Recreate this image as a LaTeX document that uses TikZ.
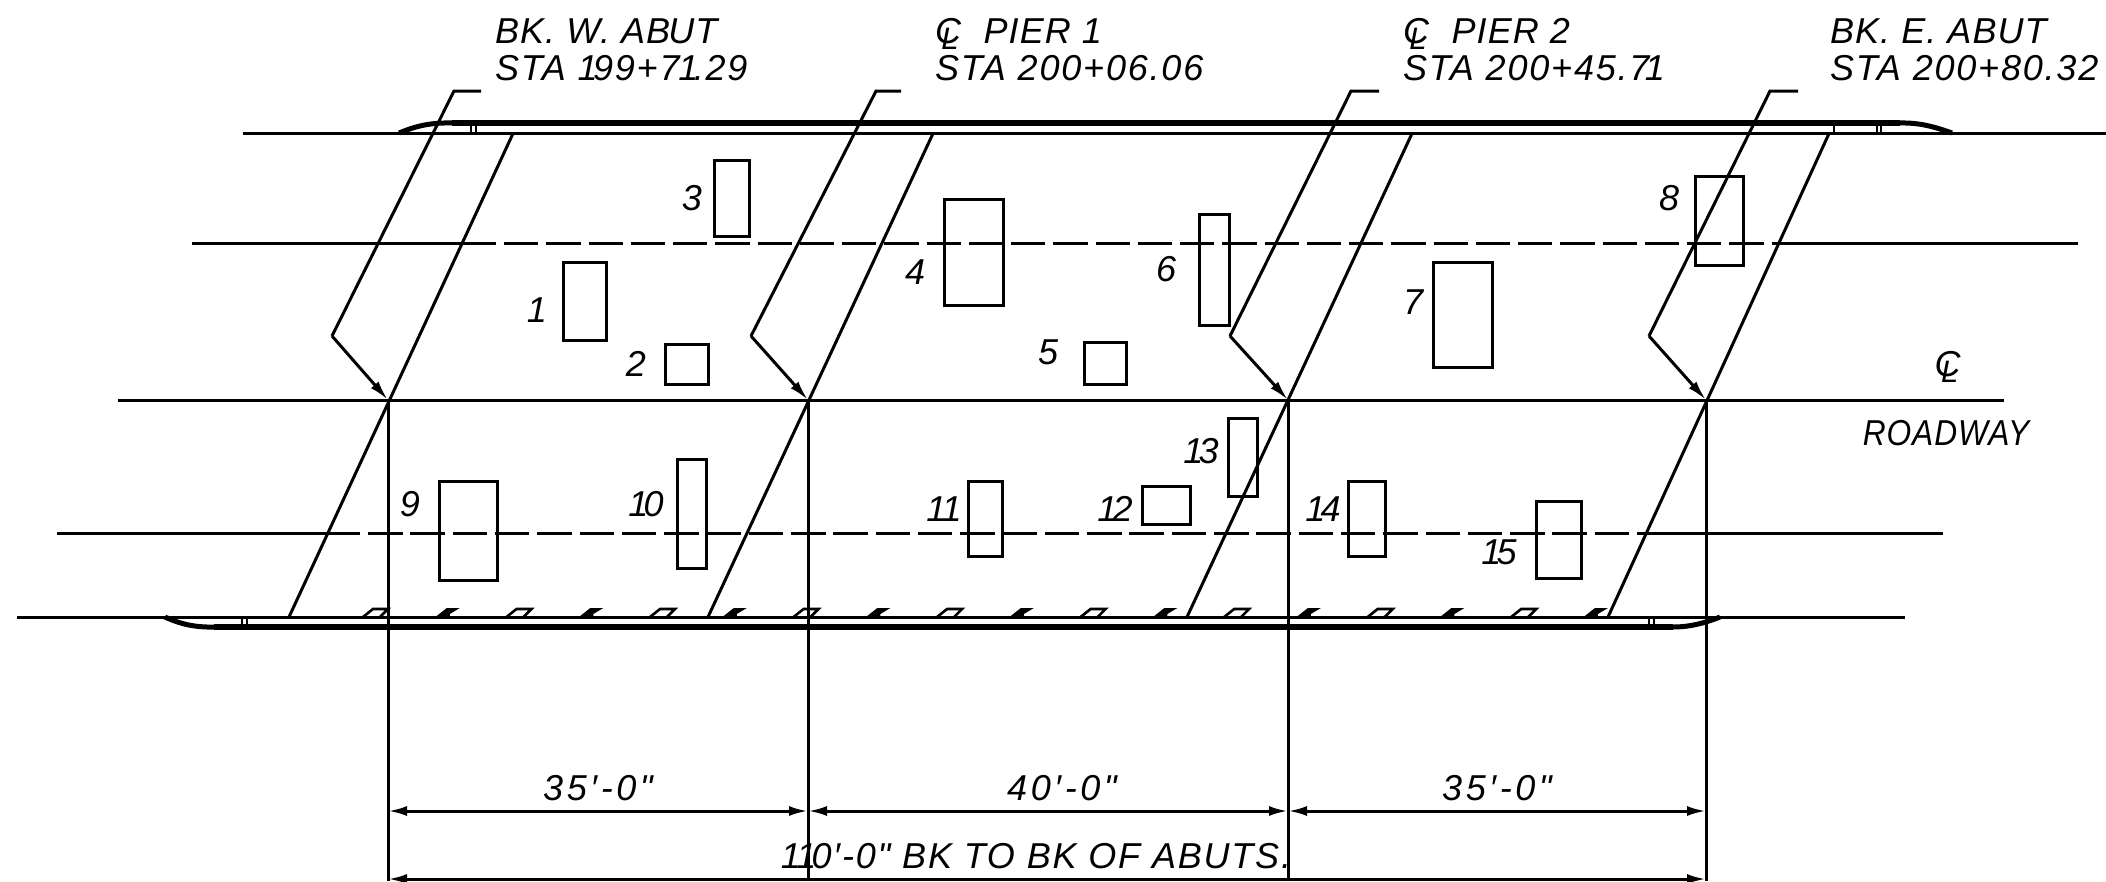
\documentclass[tikz,border=0pt]{standalone}
\usepackage{fontspec}
\newfontfamily\fa{Liberation Sans}[LetterSpace=3]
\newfontfamily\fb{Liberation Sans}[LetterSpace=5]
\newfontfamily\fc{Liberation Sans}[LetterSpace=10]
\setmainfont{Liberation Sans}
\usetikzlibrary{arrows.meta}
\newcommand\CLsym{\mbox{\rlap{C}\kern.18em\raisebox{-.18em}{\fontsize{31}{31}\selectfont L}\kern.14em}}
\newcommand\nk{\kern-.13em }
\tikzset{
  thinln/.style={line width=3pt,black},
  thickln/.style={line width=6.5pt,black},
  dashln/.style={line width=3pt,black,dash pattern=on 34.5pt off 7.8pt},
  bx/.style={draw,line width=3pt,inner sep=0pt,outer sep=0pt},
  lbl/.style={inner sep=0pt,outer sep=0pt,font=\fontsize{36}{36}\itshape},
  ttl/.style={lbl,anchor=base west},
  dim/.style={thinln,{Latex[length=19pt,width=10pt]}-{Latex[length=19pt,width=10pt]}},
  lead/.style={thinln,-{Latex[length=20pt,width=10pt]}},
  mk/.style={line width=2.6pt,black}
}
\begin{document}
\begin{tikzpicture}[x=1pt,y=-1pt]
\useasboundingbox (0,0) rectangle (2106,881);
% rails
\coordinate (tl) at (243,133.5); \coordinate (tr) at (2106,133.5);
\coordinate (bl) at (17,617); \coordinate (br) at (1905,617);
\draw[thinln] (tl) -- (tr);
\draw[thinln] (bl) -- (br);
\coordinate (tka) at (452,123); \coordinate (tkb) at (1900,123);
\coordinate (bka) at (214,627); \coordinate (bkb) at (1673,627);
\draw[thickln] (tka) -- (tkb);
\draw[thickln] (bka) -- (bkb);
\draw[line width=5pt] (399,133) .. controls (416,126) and (430,122.5) .. (tka);
\draw[line width=5pt] (tkb) .. controls (1920,122.5) and (1935,127) .. (1952,133);
\draw[line width=5pt] (165,617) .. controls (180,624) and (195,627.5) .. (bka);
\draw[line width=5pt] (bkb) .. controls (1690,627) and (1705,623) .. (1720,617);
\draw[line width=1.8pt] (471,124) -- (471,133) (476,124) -- (476,133);
\draw[line width=2.4pt] (1834,124) -- (1834,133);
\draw[line width=1.8pt] (1877,124) -- (1877,133) (1881,124) -- (1881,133);
\draw[line width=1.8pt] (242,617) -- (242,626) (247,617) -- (247,626);
\draw[line width=1.8pt] (1649,617) -- (1649,626) (1654,617) -- (1654,626);
% centre and dashed lines
\coordinate (cl) at (118,400); \coordinate (cr) at (2004,400);
\draw[thinln] (cl) -- (cr);
\coordinate (ua) at (192,243); \coordinate (ub) at (496,243); \coordinate (uc) at (504,243);
\coordinate (ud) at (1764,243); \coordinate (ue) at (1772,243); \coordinate (uf) at (2078,243);
\draw[thinln] (ua) -- (ub); \draw[dashln,dash pattern=on 34.45pt off 7.8pt] (uc) -- (ud); \draw[thinln] (ue) -- (uf);
\coordinate (la) at (57,533.5); \coordinate (lb) at (360,533.5); \coordinate (lc) at (368,533.5);
\coordinate (ld) at (1630,533.5); \coordinate (le) at (1637,533.5); \coordinate (lf) at (1943,533.5);
\draw[thinln] (la) -- (lb); \draw[dashln] (lc) -- (ld); \draw[thinln] (le) -- (lf);
% skew lines
\foreach \n/\xa/\xb in {a/513/289,b/933/708,c/1412/1187,d/1829/1608}{
  \coordinate (sk\n t) at (\xa,133.5); \coordinate (sk\n b) at (\xb,617);
  \draw[thinln] (sk\n t) -- (sk\n b);
}
% vertical lines and leaders
\foreach \n/\x/\ha/\hb/\lx in {a/388/481/454/332,b/808/901/876/751,c/1288/1379/1351/1230,d/1706/1798/1770/1649}{
  \coordinate (v\n) at (\x,400); \coordinate (w\n) at (\x,881);
  \draw[thinln] (v\n) -- (w\n);
  \coordinate (h\n) at (\ha,91); \coordinate (i\n) at (\hb,91); \coordinate (j\n) at (\lx,336);
  \draw[thinln,line join=miter] (h\n) -- (i\n) -- (j\n);
  \draw[lead] (j\n) -- (v\n);
}
% dimensions
\draw[dim] (va|-0,811) -- (vb|-0,811);
\draw[dim] (vb|-0,811) -- (vc|-0,811);
\draw[dim] (vc|-0,811) -- (vd|-0,811);
\draw[dim] (va|-0,879) -- (vd|-0,879);
% marks
\foreach \k in {0,2,...,16}{
  \draw[mk] ({377+71.76*\k-14},617) -- ({377+71.76*\k-4},609) -- ({377+71.76*\k+11},609) -- ({377+71.76*\k+3},617);
}
\foreach \k in {1,3,...,17}{
  \fill ({377+71.76*\k-14},617.5) -- ({377+71.76*\k-2},608) -- ({377+71.76*\k+11},608) -- ({377+71.76*\k+1},614) -- ({377+71.76*\k+1},617.5) -- cycle;
}
% boxes
\foreach \n/\xa/\ya/\xb/\yb in {1/563/262/606/340,2/665/344/708/384,3/714.5/160/749.5/236,4/944/199/1003/305,5/1084/342/1126/384,6/1199/214/1229/325,7/1433/262/1492/367,8/1695/176/1743/265,9/439/481/497/580,10/677/459/706/568,11/968/481/1002/556,12/1142/486/1190/524,13/1228/418/1257/496,14/1348/481/1385/556,15/1536/501/1581/578}{
  \pgfmathsetmacro\cx{(\xa+\xb)/2}\pgfmathsetmacro\cy{(\ya+\yb)/2}
  \pgfmathsetmacro\ww{\xb-\xa}\pgfmathsetmacro\hh{\yb-\ya}
  \node[bx,minimum width=\ww pt,minimum height=\hh pt] (b\n) at (\cx,\cy) {};
}
% box labels
\foreach \n/\x/\y/\t in {1/537/310/1,2/636/364/2,3/692/198/3,4/915/272/4,5/1048/352/5,6/1166/269/6,7/1413/302/7,8/1669/198/8,9/410/504/9,10/646/504/{1\nk0},11/944/509/{1\nk1},12/1115/509/{1\nk2},13/1201/451/{1\nk3},14/1323/509/{1\nk4},15/1499/552/{1\nk5}}{
  \node[lbl] (n\n) at (\x,\y) {\t};
}
% titles
\node[ttl] (t1a) at (495,43) {\fa BK. W. AB\kern-.05em UT};
\node[ttl] (t1b) at (495,80) {\fb STA 1\nk99+7\kern-.03em 1\nk.29};
\node[ttl] (t2a) at (935,43) {\fa\CLsym\kern.55em PIER 1};
\node[ttl] (t2b) at (935,80) {\fb STA 200+06.06};
\node[ttl] (t3a) at (1403,43) {\fa\CLsym\kern.55em PIER 2};
\node[ttl] (t3b) at (1403,80) {\fb STA 200+45.7\nk1};
\node[ttl] (t4a) at (1830,43) {\fa BK. E. ABUT};
\node[ttl] (t4b) at (1830,80) {\fb STA 200+80.32};
\node[lbl,anchor=base] (clr) at (1949,376) {\fa\CLsym};
\node[lbl,anchor=base] (road) at (1946,445) {\fa\scalebox{.88}[1]{ROADWAY}};
\node[lbl,anchor=base] (d1) at (598,800) {\fc 35′-0"};
\node[lbl,anchor=base] (d2) at (1062,800) {\fc 40′-0"};
\node[lbl,anchor=base] (d3) at (1497,800) {\fc 35′-0"};
\node[lbl,anchor=base] (d4) at (1036,868) {\fb 1\nk1\nk0′-0" BK TO BK OF ABUTS.};
\end{tikzpicture}
\end{document}
